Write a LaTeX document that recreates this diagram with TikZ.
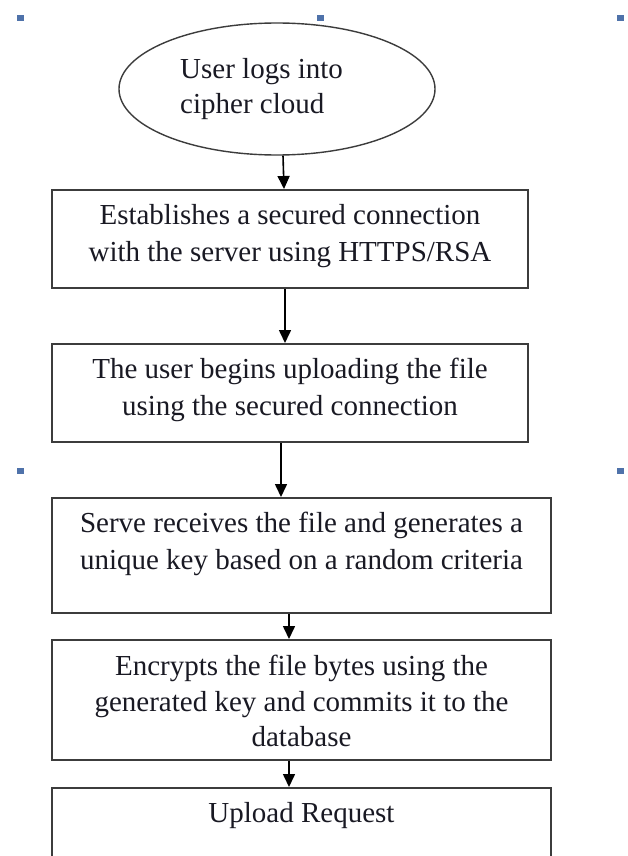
\documentclass[tikz,border=0pt]{standalone}
\usepackage{fontspec}
\setmainfont{Liberation Serif}
\usetikzlibrary{arrows.meta,shapes.geometric,calc}
\definecolor{bullet}{RGB}{79,114,170}
\definecolor{txt}{RGB}{25,25,35}
\definecolor{edge}{RGB}{60,60,60}
\tikzset{
  box/.style={draw=edge,line width=2pt,rectangle,inner sep=0pt,anchor=north west},
  oval/.style={draw=edge,line width=1.4pt,ellipse,inner sep=0pt,minimum width=316pt,minimum height=132pt},
  lbl/.style={inner sep=0pt,align=center,text=txt,font=\fontsize{29}{37}\selectfont,anchor=north},
  arr/.style={draw=black,line width=1.6pt,-{Triangle[length=13pt,width=12pt]}},
  sq/.style={fill=bullet,draw=none}
}
\begin{document}
\begin{tikzpicture}[x=1pt,y=-1pt]
\useasboundingbox (0,0) rectangle (628,856);
\clip (0,0) rectangle (628,856);
\fill[white] (0,0) rectangle (628,856);
% bullet marks
\fill[sq] (17,15) rectangle (24,21);
\fill[sq] (317,15) rectangle (324,21);
\fill[sq] (617,15) rectangle (624,21);
\fill[sq] (17,468) rectangle (24,474);
\fill[sq] (617,468) rectangle (624,474);
% ellipse
\node[oval] (e) at (277,89) {};
\node[lbl,align=left,anchor=north west,font=\fontsize{29}{35}\selectfont] (te) at (180,58) {User logs into\\cipher cloud};
% boxes
\node[box,minimum width=476pt,minimum height=98pt] (b1) at (51,189) {};
\node[box,minimum width=476pt,minimum height=98pt] (b2) at (51,343) {};
\node[box,minimum width=499pt,minimum height=115pt] (b3) at (51,497) {};
\node[box,minimum width=499pt,minimum height=120pt] (b4) at (51,639) {};
\node[box,minimum width=499pt,minimum height=110pt] (b5) at (51,787) {};
% labels
\node[lbl] (t1) at ($(b1.north)+(0,15)$) {Establishes a secured connection\\with the server using HTTPS/RSA};
\node[lbl] (t2) at ($(b2.north)+(0,15)$) {The user begins uploading the file\\using the secured connection};
\node[lbl] (t3) at ($(b3.north)+(0,15)$) {Serve receives the file and generates a\\unique key based on a random criteria};
\node[lbl,font=\fontsize{29}{35.5}\selectfont] (t4) at ($(b4.north)+(0,16)$) {Encrypts the file bytes using the\\generated key and commits it to the\\database};
\node[lbl] (t5) at ($(b5.north)+(0,15)$) {Upload Request};
% connectors
\draw[arr] ([xshift=6pt]e.south) -- ([xshift=-6pt]b1.north);
\draw[arr] ([xshift=-5pt]b1.south) -- ([xshift=-5pt]b2.north);
\draw[arr] ([xshift=-9pt]b2.south) -- ([xshift=-20.5pt]b3.north);
\draw[arr] ([xshift=-12.5pt]b3.south) -- ([xshift=-12.5pt]b4.north);
\draw[arr] ([xshift=-12.5pt]b4.south) -- ([xshift=-12.5pt]b5.north);
\end{tikzpicture}
\end{document}
